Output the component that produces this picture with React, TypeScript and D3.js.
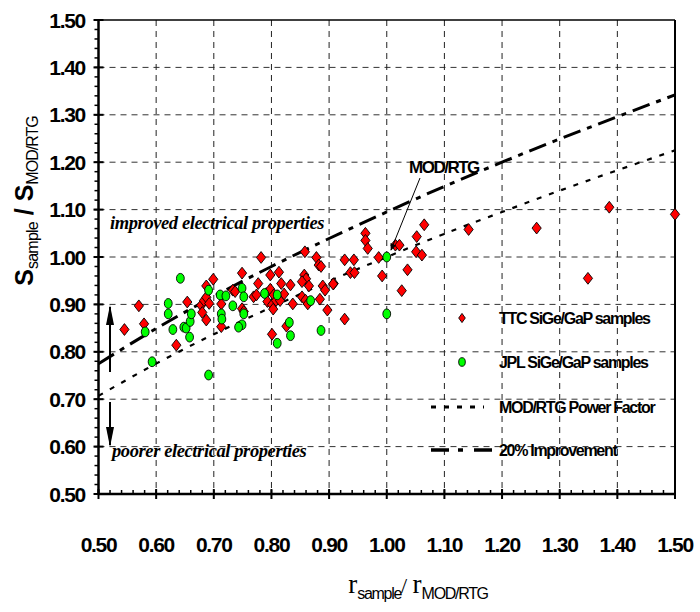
import React from "react";
import * as d3 from "d3";

// ---- data ----
const ttcX = [0.570,0.545,0.579,0.654,0.635,0.687,0.699,0.678,0.683,0.687,0.692,0.680,0.687,0.782,0.749,0.798,0.813,0.858,0.878,0.882,0.886,0.777,0.833,0.817,0.857,0.860,0.853,0.865,0.889,0.893,0.908,0.733,0.737,0.769,0.774,0.791,0.798,0.804,0.793,0.801,0.808,0.815,0.803,0.822,0.837,0.853,0.859,0.863,0.884,0.897,0.713,0.749,0.752,0.713,0.826,0.801,0.963,0.963,0.967,0.927,0.943,0.937,0.944,0.986,0.992,0.907,1.015,1.022,1.065,1.052,1.051,1.061,1.036,1.026,0.927,1.142,1.260,1.386,1.349,1.500];
const ttcY = [0.897,0.847,0.859,0.905,0.814,0.939,0.953,0.898,0.908,0.915,0.902,0.883,0.867,0.999,0.966,0.962,0.968,1.011,0.999,0.983,0.980,0.944,0.941,0.944,0.962,0.954,0.948,0.939,0.939,0.930,0.944,0.930,0.927,0.916,0.920,0.923,0.932,0.920,0.906,0.899,0.908,0.908,0.890,0.922,0.901,0.916,0.909,0.901,0.911,0.888,0.901,0.891,0.885,0.853,0.854,0.837,1.050,1.035,1.018,0.994,0.994,0.967,0.967,0.999,0.960,0.943,1.025,1.025,1.068,1.043,1.011,1.004,0.973,0.929,0.869,1.058,1.061,1.105,0.955,1.090];

const jplX = [0.642,0.621,0.621,0.581,0.593,0.629,0.648,0.652,0.658,0.659,0.661,0.691,0.691,0.711,0.721,0.749,0.752,0.733,0.713,0.714,0.752,0.749,0.743,0.788,0.810,0.868,0.831,0.833,0.810,0.886,1.000,1.000];
const jplY = [0.955,0.902,0.880,0.842,0.779,0.847,0.852,0.850,0.831,0.864,0.880,0.930,0.751,0.920,0.918,0.934,0.916,0.897,0.880,0.869,0.880,0.857,0.852,0.923,0.920,0.908,0.862,0.834,0.818,0.845,1.000,0.880];

const curveX = [0.5,0.6,0.7,0.8,0.9,1.0,1.1,1.2,1.3,1.4,1.5];
const powerFactorY = [0.707,0.775,0.837,0.894,0.949,1.0,1.049,1.095,1.140,1.183,1.225];
const improvementY = [0.775,0.849,0.917,0.980,1.039,1.095,1.149,1.200,1.249,1.296,1.342];

const xTicks = [0.5,0.6,0.7,0.8,0.9,1.0,1.1,1.2,1.3,1.4,1.5];
const yTicks = [0.5,0.6,0.7,0.8,0.9,1.0,1.1,1.2,1.3,1.4,1.5];

const legendLabels = ["TTC SiGe/GaP samples","JPL SiGe/GaP samples","MOD/RTG Power Factor","20% Improvement"];

const SANS = "'Liberation Sans', Arial, sans-serif";
const SERIF = "'Liberation Serif', 'Times New Roman', serif";

export default function App() {
  const L = 98.5, R = 675, T = 20, B = 494;
  const x = d3.scaleLinear().domain([0.5, 1.5]).range([L, R]);
  const y = d3.scaleLinear().domain([0.5, 1.5]).range([B, T]);
  const minor = d3.range(0.5, 1.5001, 0.02);

  const line = d3.line<number>().x((_, i) => x(curveX[i])).y(d => y(d)).curve(d3.curveMonotoneX);

  const diamond = (cx: number, cy: number, hw = 4.6, hh = 5.9) =>
    `M${cx},${cy - hh}L${cx + hw},${cy}L${cx},${cy + hh}L${cx - hw},${cy}Z`;

  const legendRows = [318, 362, 407, 450];

  return (
    <svg width={700} height={612} style={{ position: "absolute", left: 0, top: 0, background: "#fff" }}>
      <rect x={0} y={0} width={700} height={612} fill="#fff" />
      {/* grid */}
      {yTicks.slice(1, -1).map(t => (
        <line key={"gy" + t} x1={L} x2={R} y1={y(t)} y2={y(t)} stroke="#333" strokeWidth={1} strokeDasharray="6,5" />
      ))}
      {xTicks.slice(1, -1).map(t => (
        <line key={"gx" + t} x1={x(t)} x2={x(t)} y1={T} y2={B} stroke="#222" strokeWidth={1} strokeDasharray="6,5" />
      ))}
      {/* curves */}
      <path d={line(powerFactorY) || ""} fill="none" stroke="#000" strokeWidth={2.2} strokeDasharray="5,8" />
      <path d={line(improvementY) || ""} fill="none" stroke="#000" strokeWidth={3} strokeDasharray="18,7,5,7" />
      {/* frame */}
      <line x1={L} x2={R} y1={T} y2={T} stroke="#000" strokeWidth={1.5} />
      <line x1={R} x2={R} y1={T} y2={B} stroke="#000" strokeWidth={2} />
      <line x1={L} x2={L} y1={T} y2={B} stroke="#000" strokeWidth={2.5} />
      <line x1={L} x2={R} y1={B} y2={B} stroke="#000" strokeWidth={2.5} />
      {/* y ticks */}
      {minor.map((t, i) => (
        <line key={"my" + i} x1={L - 4} x2={L} y1={y(t)} y2={y(t)} stroke="#000" strokeWidth={1.5} />
      ))}
      {yTicks.map(t => (
        <line key={"ty" + t} x1={L - 5} x2={L + 5} y1={y(t)} y2={y(t)} stroke="#000" strokeWidth={2} />
      ))}
      {yTicks.map(t => (
        <text key={"ly" + t} x={85} y={y(t) + 7.5} textAnchor="end" fontFamily={SANS} fontWeight="bold" fontSize={21} letterSpacing={-1.3}>
          {t.toFixed(2)}
        </text>
      ))}
      {/* x ticks */}
      {minor.map((t, i) => (
        <line key={"mx" + i} x1={x(t)} x2={x(t)} y1={B - 4} y2={B} stroke="#000" strokeWidth={1.5} />
      ))}
      {xTicks.map(t => (
        <line key={"tx" + t} x1={x(t)} x2={x(t)} y1={B - 5} y2={B + 5} stroke="#000" strokeWidth={2} />
      ))}
      {xTicks.map(t => (
        <text key={"lx" + t} x={x(t)} y={552} textAnchor="middle" fontFamily={SANS} fontWeight="bold" fontSize={21} letterSpacing={-1.3}>
          {t.toFixed(2)}
        </text>
      ))}
      {/* data */}
      {ttcX.map((v, i) => (
        <path key={"t" + i} d={diamond(x(v), y(ttcY[i]))} fill="#ff0000" stroke="#000" strokeWidth={0.9} />
      ))}
      {jplX.map((v, i) => (
        <ellipse key={"j" + i} cx={x(v)} cy={y(jplY[i])} rx={3.9} ry={4.9} fill="#00ff00" stroke="#000" strokeWidth={0.9} />
      ))}
      {/* annotations */}
      <text x={110} y={229} fontFamily={SERIF} fontWeight="bold" fontStyle="italic" fontSize={18.5} letterSpacing={-0.4}>
        improved electrical properties
      </text>
      <text x={112} y={457} fontFamily={SERIF} fontWeight="bold" fontStyle="italic" fontSize={18.5} letterSpacing={-0.4}>
        poorer electrical properties
      </text>
      <defs>
        <marker id="ah" viewBox="0 0 10 10" refX={9} refY={5} markerWidth={7} markerHeight={6} orient="auto" markerUnits="userSpaceOnUse" preserveAspectRatio="none">
          <path d="M0,0L10,5L0,10Z" fill="#000" />
        </marker>
        <marker id="ah2" viewBox="0 0 10 10" refX={9} refY={5} markerWidth={20} markerHeight={8} orient="auto" markerUnits="userSpaceOnUse" preserveAspectRatio="none">
          <path d="M0,0L10,5L0,10Z" fill="#000" />
        </marker>
      </defs>
      <line x1={110} y1={372} x2={110} y2={307} stroke="#000" strokeWidth={2} markerEnd="url(#ah2)" />
      <line x1={110} y1={402} x2={110} y2={445} stroke="#000" strokeWidth={2} markerEnd="url(#ah2)" />
      <text x={409} y={173} fontFamily={SANS} fontWeight="bold" fontSize={17} letterSpacing={-1.5}>MOD/RTG</text>
      <line x1={420} y1={178} x2={391} y2={250} stroke="#000" strokeWidth={1} markerEnd="url(#ah)" />
      {/* legend */}
      <path d={diamond(462, legendRows[0], 3.3, 4.6)} fill="#ff0000" stroke="#000" strokeWidth={0.9} />
      <ellipse cx={462} cy={legendRows[1]} rx={3.3} ry={4.3} fill="#00ff00" stroke="#000" strokeWidth={0.9} />
      <line x1={431} x2={484} y1={legendRows[2]} y2={legendRows[2]} stroke="#000" strokeWidth={3} strokeDasharray="5,8" />
      <line x1={431} x2={492} y1={legendRows[3]} y2={legendRows[3]} stroke="#000" strokeWidth={3.5} strokeDasharray="18,9,5,11" />
      {legendLabels.map((s, i) => (
        <text key={s} x={499} y={legendRows[i] + 6} fontFamily={SANS} fontWeight="bold" fontSize={16} letterSpacing={-1.3}>
          {s}
        </text>
      ))}
      {/* axis titles */}
      <text transform="translate(33,201) rotate(-90)" textAnchor="middle" fontFamily={SANS}>
        <tspan fontSize={25} fontWeight="bold">S</tspan>
        <tspan fontSize={16} dy={5} letterSpacing={-0.8}>sample</tspan>
        <tspan fontSize={25} fontWeight="bold" dy={-5}> / S</tspan>
        <tspan fontSize={16} dy={5} letterSpacing={-1}>MOD/RTG</tspan>
      </text>
      <text x={418} y={593} textAnchor="middle">
        <tspan fontFamily={SERIF} fontSize={27}>r</tspan>
        <tspan fontFamily={SANS} fontSize={16} dy={6} letterSpacing={-1.3}>sample</tspan>
        <tspan fontFamily={SERIF} fontSize={22} dy={-6}>/ </tspan>
        <tspan fontFamily={SERIF} fontSize={27}>r</tspan>
        <tspan fontFamily={SANS} fontSize={16} dy={6} letterSpacing={-1.3}>MOD/RTG</tspan>
      </text>
    </svg>
  );
}
